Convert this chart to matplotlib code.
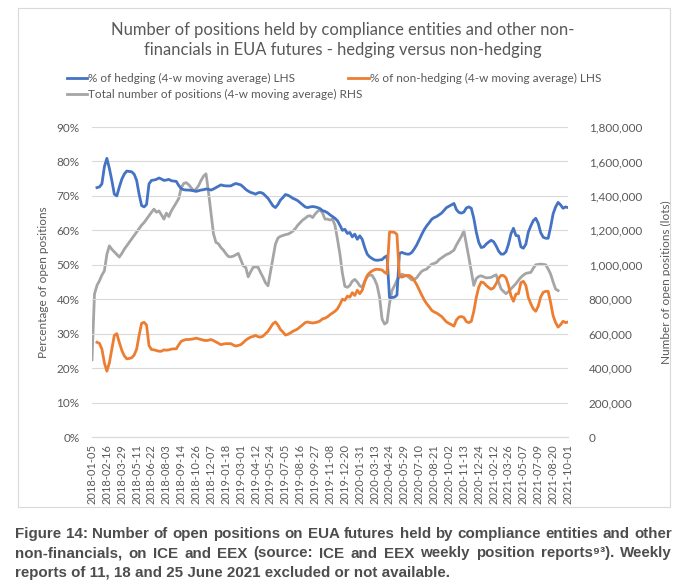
import numpy as np
import matplotlib
matplotlib.use("Agg")
import matplotlib.pyplot as plt
from matplotlib.patches import Rectangle
from matplotlib.ticker import FuncFormatter, MultipleLocator

nan = np.nan

tick_labels = [
    "2018-01-05", "2018-02-16", "2018-03-29", "2018-05-11", "2018-06-22", "2018-08-03",
    "2018-09-14", "2018-10-26", "2018-12-07", "2019-01-18", "2019-03-01", "2019-04-12",
    "2019-05-24", "2019-07-05", "2019-08-16", "2019-09-27", "2019-11-08", "2019-12-20",
    "2020-01-31", "2020-03-13", "2020-04-24", "2020-05-29", "2020-07-10", "2020-08-21",
    "2020-10-02", "2020-11-13", "2020-12-24", "2021-02-12", "2021-03-26", "2021-05-07",
    "2021-07-09", "2021-08-20", "2021-10-01",
]

hedging_pct = [
    nan, nan, 72.4, 72.6, 73.5, 78.5, 80.9, 78.0, 74.5, 70.5,
    70.0, 72.5, 74.8, 76.3, 77.2, 77.1, 77.0, 76.3, 74.5, 70.5,
    67.2, 66.8, 67.5, 73.5, 74.5, 74.6, 74.8, 75.2, 74.9, 74.5,
    74.6, 74.8, 74.4, 74.3, 74.2, 73.0, 72.1, 71.8, 71.7, 71.7,
    71.6, 71.5, 71.3, 71.5, 71.7, 71.8, 72.0, 71.9, 71.7, 72.0,
    72.4, 72.8, 73.2, 73.0, 72.9, 72.9, 72.9, 73.3, 73.6, 73.4,
    73.2, 72.6, 71.9, 71.4, 71.0, 70.8, 70.5, 70.9, 71.0, 70.7,
    70.0, 69.3, 68.2, 67.1, 66.6, 67.5, 68.8, 69.5, 70.4, 70.2,
    69.8, 69.3, 69.0, 68.6, 68.0, 67.4, 66.8, 66.6, 66.8, 66.9,
    66.8, 66.6, 66.3, 65.7, 65.5, 65.1, 64.5, 64.0, 63.5, 62.8,
    61.5, 60.0, 60.3, 59.1, 59.4, 58.1, 58.9, 57.4, 58.4, 57.4,
    55.0, 53.1, 52.3, 51.8, 51.4, 51.3, 51.4, 51.5, 52.2, 52.6,
    40.5, 40.5, 40.6, 41.2, 53.3, 53.6, 53.3, 53.1, 53.1, 53.6,
    54.6, 55.8, 57.3, 58.8, 60.2, 61.3, 62.2, 63.2, 63.7, 64.0,
    64.5, 65.0, 65.8, 66.6, 67.0, 67.4, 67.8, 66.0, 65.2, 65.0,
    65.3, 66.5, 66.8, 66.4, 63.5, 59.5, 56.5, 55.0, 55.2, 56.0,
    56.6, 57.1, 56.7, 55.5, 54.0, 53.1, 53.1, 53.8, 56.0, 59.0,
    60.6, 58.5, 58.4, 55.2, 54.8, 56.0, 59.5, 61.3, 62.8, 63.5,
    62.0, 59.3, 58.0, 57.7, 57.7, 61.0, 64.8, 66.8, 68.1, 67.4,
    66.4, 66.8, 66.6,
]

non_hedging_pct = [
    nan, nan, 27.5, 27.2, 25.5, 21.5, 19.1, 21.5, 25.5, 29.5,
    30.0, 27.5, 25.2, 23.6, 22.7, 22.8, 23.0, 23.8, 25.5, 29.5,
    33.0, 33.3, 32.5, 26.5, 25.4, 25.3, 25.1, 24.9, 24.9, 25.3,
    25.2, 25.3, 25.5, 25.6, 25.6, 26.8, 27.8, 28.1, 28.3, 28.3,
    28.4, 28.5, 28.7, 28.5, 28.3, 28.1, 28.0, 28.1, 28.3, 28.0,
    27.6, 27.2, 26.8, 27.0, 27.1, 27.1, 27.1, 26.7, 26.4, 26.6,
    26.8, 27.4, 28.1, 28.6, 29.0, 29.2, 29.5, 29.1, 29.0, 29.3,
    30.0, 30.7, 31.8, 32.9, 33.4, 32.5, 31.2, 30.5, 29.6, 29.8,
    30.2, 30.7, 31.0, 31.4, 32.0, 32.6, 33.2, 33.4, 33.2, 33.1,
    33.2, 33.4, 33.7, 34.3, 34.5, 34.9, 35.5, 36.0, 36.5, 37.2,
    38.5, 40.0, 39.7, 40.9, 40.6, 41.9, 41.1, 42.6, 41.6, 42.6,
    45.0, 46.9, 47.7, 48.2, 48.6, 48.7, 48.6, 48.5, 47.8, 47.4,
    59.5, 59.5, 59.4, 58.8, 46.7, 46.4, 46.7, 46.9, 46.9, 46.4,
    45.4, 44.2, 42.7, 41.2, 39.8, 38.7, 37.8, 36.8, 36.3, 36.0,
    35.5, 35.0, 34.2, 33.4, 33.0, 32.6, 32.2, 34.0, 34.8, 35.0,
    34.7, 33.5, 33.2, 33.6, 36.5, 40.5, 43.5, 45.0, 44.8, 44.0,
    43.4, 42.9, 43.3, 44.5, 46.0, 46.9, 46.9, 46.2, 44.0, 41.0,
    39.4, 41.5, 41.6, 44.8, 45.2, 44.0, 40.5, 38.7, 37.2, 36.5,
    38.0, 40.7, 42.0, 42.3, 42.3, 39.0, 35.2, 33.2, 31.9, 32.6,
    33.6, 33.2, 33.4,
]

total_positions_k = [
    448, 830, 880, 907, 940, 965, 1060, 1110, 1090, 1075,
    1060, 1045, 1065, 1090, 1110, 1130, 1150, 1170, 1190, 1210,
    1230, 1245, 1265, 1284, 1305, 1323, 1305, 1313, 1290, 1265,
    1300, 1280, 1313, 1336, 1360, 1385, 1448, 1472, 1477, 1465,
    1448, 1429, 1440, 1460, 1490, 1515, 1528, 1420, 1300, 1180,
    1130, 1122, 1100, 1085, 1065, 1048, 1046, 1050, 1058, 1066,
    1030, 994, 985, 930, 960, 985, 988, 985, 955, 927,
    895, 878, 960, 1040, 1120, 1155, 1165, 1170, 1175, 1178,
    1185, 1195, 1210, 1230, 1245, 1260, 1270, 1282, 1285, 1274,
    1295, 1310, 1320, 1300, 1265, 1265, 1260, 1265, 1230, 1150,
    1062, 950, 875, 869, 880, 905, 915, 900, 878, 869,
    905, 930, 942, 938, 915, 880, 811, 685, 656, 666,
    775, 850, 878, 910, 930, 945, 940, 936, 925, 912,
    915, 925, 945, 962, 970, 975, 990, 1003, 1008, 1014,
    1030, 1040, 1050, 1060, 1065, 1075, 1085, 1115, 1140, 1165,
    1197, 1120, 1043, 960, 880, 920, 932, 936, 930, 924,
    925, 927, 935, 942, 900, 860, 845, 832, 845, 860,
    875, 890, 910, 927, 940, 950, 953, 956, 980, 1000,
    1002, 1004, 1002, 1000, 975, 946, 900, 859, 850,
    nan, nan, nan, nan,
]

BLUE = "#4472C4"
ORANGE = "#ED7D31"
GRAY = "#A5A5A5"
TXT = "#595959"
GRID = "#D9D9D9"

plt.rcParams['font.family'] = ['Lato', 'DejaVu Sans']

W, H = 688, 587
fig = plt.figure(figsize=(W / 100, H / 100), dpi=100)

# chart border box
fig.patches.append(Rectangle((18 / W, 1 - 507 / H), (670 - 18) / W, (507 - 8) / H,
                             transform=fig.transFigure, fill=False,
                             edgecolor=GRID, linewidth=0.8))

left, right, top, bottom = 92, 568, 127, 437
ax = fig.add_axes([left / W, 1 - bottom / H, (right - left) / W, (bottom - top) / H])
ax2 = ax.twinx()

n = len(hedging_pct)
x = np.arange(n)
h = np.array(hedging_pct) / 100.0
nh = np.array(non_hedging_pct) / 100.0
tot = np.array(total_positions_k) * 1000.0

ax.set_zorder(ax2.get_zorder() + 1)
ax.patch.set_visible(False)

l_gray, = ax2.plot(x, tot, color=GRAY, lw=2.0, solid_joinstyle='round',
                   label="Total number of positions (4-w moving average) RHS")
l_blue, = ax.plot(x, h, color=BLUE, lw=2.0, solid_joinstyle='round',
                  label="% of hedging (4-w moving average) LHS")
l_orange, = ax.plot(x, nh, color=ORANGE, lw=2.0, solid_joinstyle='round',
                    label="% of non-hedging (4-w moving average) LHS")

ax.set_xlim(0, n - 1)
ax.set_ylim(0, 0.9)
ax2.set_ylim(0, 1800000)
ax.yaxis.set_major_locator(MultipleLocator(0.1))
ax.yaxis.set_major_formatter(FuncFormatter(lambda v, p: f"{v * 100:.0f}%"))
ax2.yaxis.set_major_locator(MultipleLocator(200000))
ax2.yaxis.set_major_formatter(FuncFormatter(lambda v, p: f"{v:,.0f}"))

ax.set_xticks(np.arange(0, n, 6))
ax.set_xticklabels(tick_labels, rotation=90)

ax2.grid(False)
ax.grid(axis='y', color=GRID, lw=0.8)
ax.set_axisbelow(True)
for a in (ax, ax2):
    for s in a.spines.values():
        s.set_visible(False)
ax.spines['bottom'].set_visible(True)
ax.spines['bottom'].set_color(GRID)
ax.spines['bottom'].set_linewidth(0.8)

ax.tick_params(axis='x', length=0, pad=5, labelsize=8, colors=TXT)
ax.tick_params(axis='y', length=0, pad=9, labelsize=8.5, colors=TXT)
ax2.tick_params(axis='y', length=0, pad=15, labelsize=8.5, colors=TXT)

ax.set_ylabel("Percentage of open positions", fontsize=8.5, color=TXT)
ax.yaxis.set_label_coords((49 - left) / (right - left), 0.5)
ax2.set_ylabel("Number of open positions (lots)", fontsize=8.5, color=TXT, rotation=90)
ax2.yaxis.set_label_coords((661 - left) / (right - left), 0.5)

fig.text(343 / W, 1 - 40 / H,
         "Number of positions held by compliance entities and other non-\n"
         "financials in EUA futures - hedging versus non-hedging",
         ha='center', va='center', fontsize=11.9, color=TXT, linespacing=1.35)

fig.legend(handles=[l_blue, l_gray, l_orange], ncol=2, loc='upper left',
           bbox_to_anchor=(67 / W, 1 - 73 / H), frameon=False, fontsize=8.5,
           labelcolor=TXT, handlelength=1.7, handletextpad=0.1,
           columnspacing=-1.2, labelspacing=0.45, borderaxespad=0, borderpad=0)

cap_lines = [
    "Figure 14: Number of open positions on EUA futures held by compliance entities and other",
    "non-financials, on ICE and EEX (source: ICE and EEX weekly position reports\u2079\u00b3). Weekly",
    "reports of 11, 18 and 25 June 2021 excluded or not available.",
]
cap_kw = dict(ha='left', va='center', fontsize=10.9, fontweight='bold', color="#4d4d4d",
              family=['Liberation Sans', 'DejaVu Sans'])
x0_px, x1_px = 15, 672
renderer = fig.canvas.get_renderer()
for k, line in enumerate(cap_lines):
    ypos = 1 - (534 + 19.5 * k) / H
    if k < 2:
        words = line.split(" ")
        texts = [fig.text(0, ypos, w, **cap_kw) for w in words]
        widths = [t.get_window_extent(renderer).width for t in texts]
        gap = (x1_px - x0_px - sum(widths)) / (len(words) - 1)
        cur = x0_px
        for t, wd in zip(texts, widths):
            t.set_x(cur / W)
            cur += wd + gap
    else:
        fig.text(x0_px / W, ypos, line, **cap_kw)

fig.savefig("out.png", dpi=100)
